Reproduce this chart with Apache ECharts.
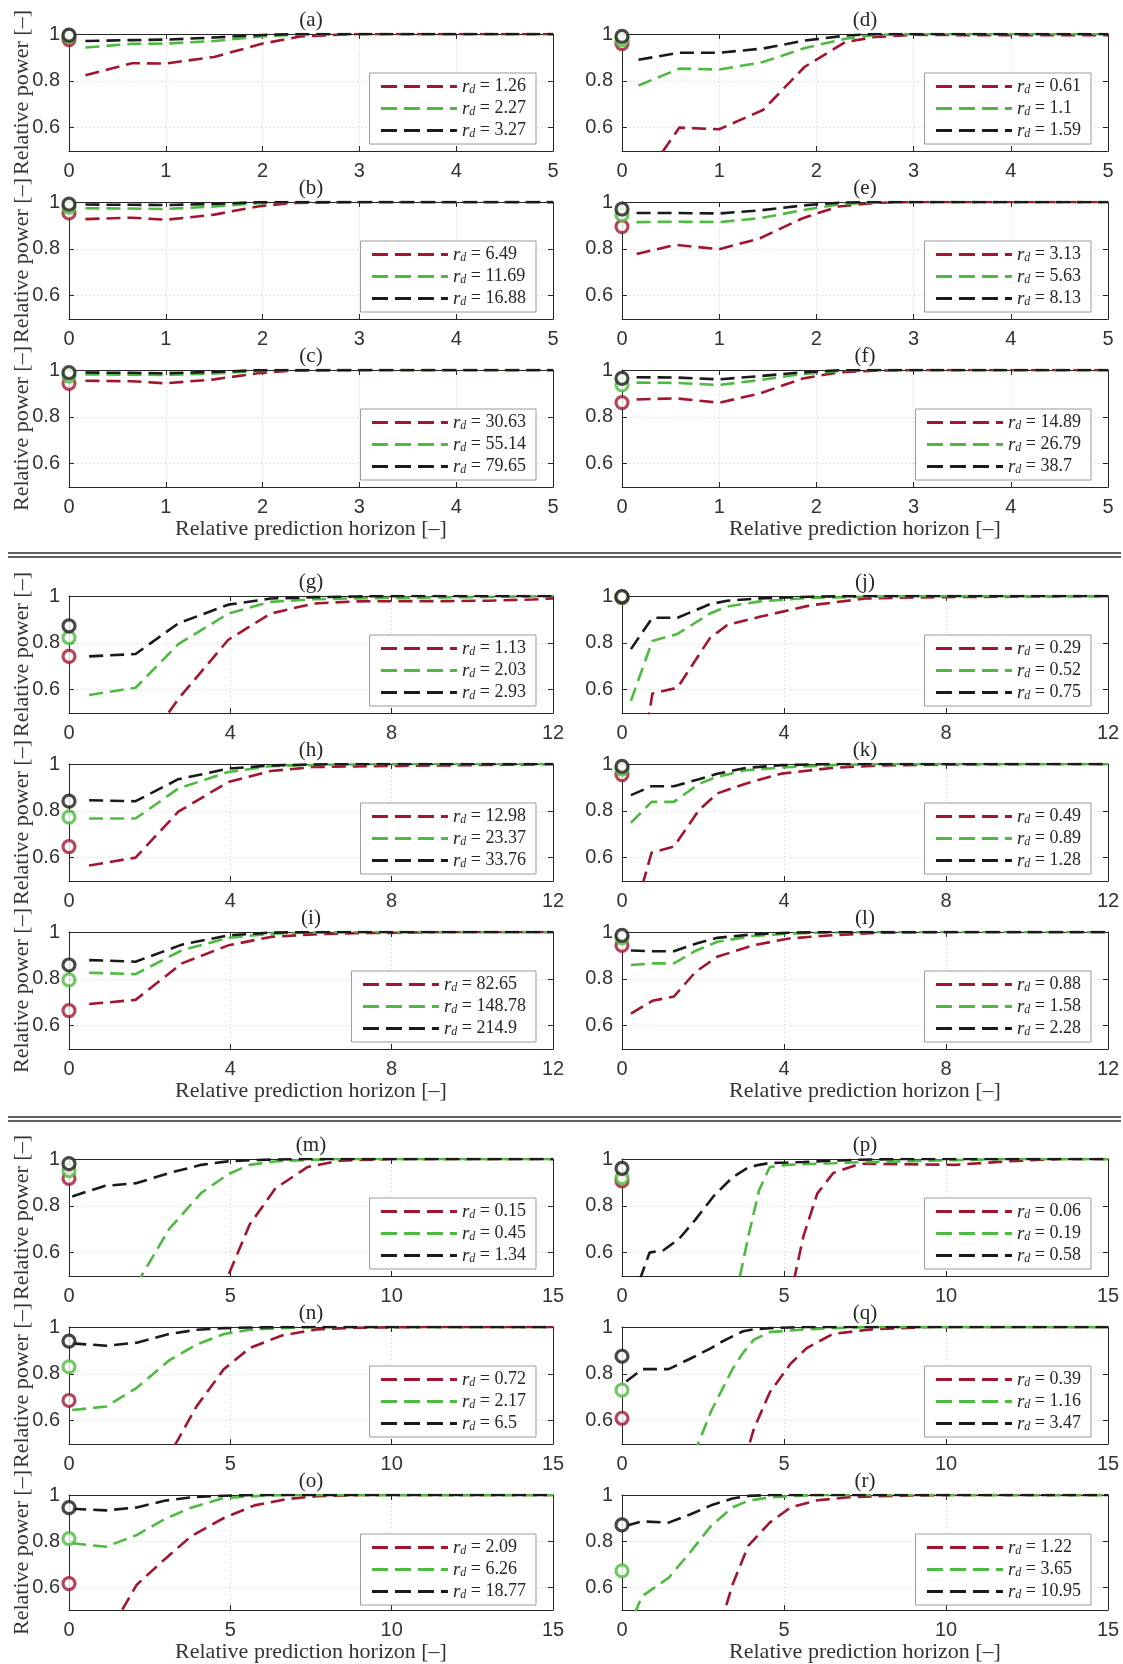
<!DOCTYPE html>
<html>
<head>
<meta charset="utf-8">
<script src="https://cdn.jsdelivr.net/npm/echarts/dist/echarts.min.js"></script>
<style>
  html, body { margin: 0; background: #fff; }
  #chart { width: 1123px; height: 1664px; }
</style>
</head>
<body>
<div id="chart"></div>
<script>
// ---- data: x samples, [red, green, black] curves, start circles at x=0, r_d values
const a_x = [0.17, 0.65, 1.0, 1.5, 2.0, 2.4, 3.0, 3.5, 4.0, 4.5, 5.0];
const a_y = [[0.824, 0.875, 0.874, 0.902, 0.959, 0.990, 1, 1, 1, 1, 1],
             [0.942, 0.958, 0.959, 0.970, 0.990, 0.998, 1, 1, 1, 1, 1],
             [0.970, 0.974, 0.976, 0.985, 0.996, 1, 1, 1, 1, 1, 1]];
const a_o = [0.976, 0.990, 0.995];
const a_rd = ['1.26', '2.27', '3.27'];

const b_x = [0.17, 0.65, 1.0, 1.5, 1.95, 2.3, 3.0, 3.5, 4.0, 4.5, 5.0];
const b_y = [[0.927, 0.933, 0.924, 0.946, 0.981, 0.996, 1, 1, 1, 1, 1],
             [0.973, 0.972, 0.970, 0.981, 0.995, 1, 1, 1, 1, 1, 1],
             [0.989, 0.988, 0.987, 0.992, 0.999, 1, 1, 1, 1, 1, 1]];
const b_o = [0.953, 0.978, 0.991];
const b_rd = ['6.49', '11.69', '16.88'];

const c_x = [0.17, 0.65, 1.0, 1.5, 1.95, 2.3, 3.0, 3.5, 4.0, 4.5, 5.0];
const c_y = [[0.954, 0.952, 0.943, 0.960, 0.986, 0.997, 1, 1, 1, 1, 1],
             [0.981, 0.980, 0.979, 0.985, 0.996, 1, 1, 1, 1, 1, 1],
             [0.989, 0.988, 0.986, 0.992, 0.999, 1, 1, 1, 1, 1, 1]];
const c_o = [0.943, 0.974, 0.989];
const c_rd = ['30.63', '55.14', '79.65'];

const d_x = [0.17, 0.59, 1.0, 1.45, 1.88, 2.3, 2.6, 3.0, 3.5, 4.0, 4.5, 5.0];
const d_y = [[0.35, 0.600, 0.593, 0.675, 0.860, 0.966, 0.987, 0.997, 0.995, 0.995, 0.995, 0.995],
             [0.780, 0.852, 0.848, 0.880, 0.940, 0.980, 0.996, 1, 1, 1, 1, 1],
             [0.890, 0.920, 0.920, 0.938, 0.972, 0.993, 1, 1, 1, 1, 1, 1]];
const d_o = [0.959, 0.975, 0.990];
const d_rd = ['0.61', '1.1', '1.59'];

const e_x = [0.15, 0.55, 1.0, 1.42, 1.86, 2.23, 2.6, 3.0, 3.5, 4.0, 4.5, 5.0];
const e_y = [[0.778, 0.817, 0.798, 0.845, 0.931, 0.981, 0.996, 1, 1, 1, 1, 1],
             [0.914, 0.916, 0.914, 0.931, 0.965, 0.990, 0.998, 1, 1, 1, 1, 1],
             [0.953, 0.953, 0.951, 0.964, 0.985, 0.997, 1, 1, 1, 1, 1, 1]];
const e_o = [0.895, 0.945, 0.970];
const e_rd = ['3.13', '5.63', '8.13'];

const f_x = [0.15, 0.55, 1.0, 1.42, 1.86, 2.23, 2.6, 3.0, 3.5, 4.0, 4.5, 5.0];
const f_y = [[0.874, 0.879, 0.860, 0.900, 0.964, 0.990, 0.997, 1, 1, 1, 1, 1],
             [0.946, 0.945, 0.936, 0.957, 0.983, 0.996, 1, 1, 1, 1, 1, 1],
             [0.969, 0.968, 0.960, 0.974, 0.990, 0.999, 1, 1, 1, 1, 1, 1]];
const f_o = [0.861, 0.936, 0.964];
const f_rd = ['14.89', '26.79', '38.7'];

const g_x = [0.5, 1.65, 2.71, 3.95, 5.0, 6.07, 7.1, 8.2, 9.3, 10.4, 11.5, 12];
const g_y = [[0.26, 0.30, 0.56, 0.813, 0.925, 0.968, 0.977, 0.978, 0.978, 0.980, 0.985, 0.990],
             [0.577, 0.608, 0.794, 0.925, 0.975, 0.986, 0.990, 0.992, 0.994, 0.996, 0.998, 1],
             [0.742, 0.752, 0.883, 0.963, 0.989, 0.995, 0.998, 1, 1, 1, 1, 1]];
const g_o = [0.742, 0.822, 0.872];
const g_rd = ['1.13', '2.03', '2.93'];

const h_x = [0.5, 1.65, 2.71, 3.95, 5.0, 6.07, 7.1, 8.2, 9.3, 10.4, 11.5, 12];
const h_y = [[0.566, 0.600, 0.796, 0.923, 0.970, 0.987, 0.990, 0.992, 0.994, 0.996, 0.998, 1],
             [0.767, 0.767, 0.895, 0.966, 0.991, 0.996, 0.998, 1, 1, 1, 1, 1],
             [0.845, 0.841, 0.935, 0.980, 0.994, 0.998, 1, 1, 1, 1, 1, 1]];
const h_o = [0.647, 0.773, 0.841];
const h_rd = ['12.98', '23.37', '33.76'];

const i_x = [0.5, 1.65, 2.8, 3.95, 5.0, 6.07, 7.1, 8.2, 9.3, 10.4, 11.5, 12];
const i_y = [[0.692, 0.710, 0.866, 0.943, 0.979, 0.990, 0.995, 0.997, 1, 1, 1, 1],
             [0.826, 0.820, 0.922, 0.975, 0.993, 0.998, 1, 1, 1, 1, 1, 1],
             [0.880, 0.873, 0.946, 0.986, 0.997, 1, 1, 1, 1, 1, 1, 1]];
const i_o = [0.664, 0.795, 0.859];
const i_rd = ['82.65', '148.78', '214.9'];

const j_x = [0.22, 0.75, 1.37, 2.17, 2.6, 3.4, 4.65, 6, 7.3, 8.6, 10, 12];
const j_y = [[0.0, 0.583, 0.608, 0.820, 0.876, 0.911, 0.960, 0.989, 0.994, 0.996, 0.998, 1],
             [0.552, 0.808, 0.838, 0.925, 0.955, 0.977, 0.992, 0.997, 1, 1, 1, 1],
             [0.773, 0.907, 0.907, 0.965, 0.980, 0.990, 0.997, 1, 1, 1, 1, 1]];
const j_o = [0.993, 0.995, 0.997];
const j_rd = ['0.29', '0.52', '0.75'];

const k_x = [0.22, 0.73, 1.28, 1.9, 2.35, 3.05, 3.94, 5.18, 6.4, 8, 10, 12];
const k_y = [[0.31, 0.621, 0.647, 0.803, 0.874, 0.916, 0.959, 0.983, 0.994, 0.998, 1, 1],
             [0.749, 0.838, 0.838, 0.915, 0.945, 0.973, 0.985, 0.995, 1, 1, 1, 1],
             [0.867, 0.905, 0.905, 0.935, 0.958, 0.983, 0.995, 1, 1, 1, 1, 1]];
const k_o = [0.955, 0.978, 0.990];
const k_rd = ['0.49', '0.89', '1.28'];

const l_x = [0.22, 0.75, 1.28, 1.82, 2.35, 3.23, 4.12, 5.18, 6.4, 8, 10, 12];
const l_y = [[0.651, 0.706, 0.724, 0.830, 0.894, 0.943, 0.972, 0.986, 0.997, 1, 1, 1],
             [0.859, 0.866, 0.866, 0.920, 0.958, 0.983, 0.993, 0.998, 1, 1, 1, 1],
             [0.921, 0.918, 0.918, 0.950, 0.975, 0.990, 0.997, 1, 1, 1, 1, 1]];
const l_o = [0.943, 0.975, 0.986];
const l_rd = ['0.88', '1.58', '2.28'];

const m_x = [0.1, 1.1, 2.1, 3.1, 4.1, 4.93, 5.6, 6.4, 7.4, 8.4, 10, 12, 15];
const m_y = [[0, 0, 0, 0, 0.2, 0.5, 0.72, 0.875, 0.966, 0.993, 1, 1, 1],
             [0, 0.2, 0.466, 0.70, 0.855, 0.935, 0.975, 0.99, 0.996, 1, 1, 1, 1],
             [0.84, 0.885, 0.897, 0.94, 0.975, 0.99, 0.995, 0.998, 1, 1, 1, 1, 1]];
const m_o = [0.917, 0.95, 0.98];
const m_rd = ['0.15', '0.45', '1.34'];

const n_x = [0.1, 1.15, 2.1, 3.1, 3.95, 4.8, 5.6, 6.6, 7.7, 9, 11, 13, 15];
const n_y = [[0, 0, 0.2, 0.45, 0.66, 0.82, 0.91, 0.964, 0.99, 0.997, 1, 1, 1],
             [0.645, 0.66, 0.74, 0.857, 0.925, 0.97, 0.988, 0.995, 1, 1, 1, 1, 1],
             [0.93, 0.92, 0.933, 0.97, 0.988, 0.995, 0.998, 1, 1, 1, 1, 1, 1]];
const n_o = [0.686, 0.83, 0.94];
const n_rd = ['0.72', '2.17', '6.5'];

const o_x = [0.1, 1.15, 2.1, 2.96, 3.78, 4.8, 5.75, 6.74, 7.7, 9, 11, 13, 15];
const o_y = [[0.1, 0.38, 0.61, 0.72, 0.82, 0.9, 0.955, 0.982, 0.995, 1, 1, 1, 1],
             [0.79, 0.775, 0.826, 0.895, 0.945, 0.987, 0.995, 1, 1, 1, 1, 1, 1],
             [0.94, 0.933, 0.946, 0.975, 0.99, 0.997, 1, 1, 1, 1, 1, 1, 1]];
const o_o = [0.615, 0.81, 0.945];
const o_rd = ['2.09', '6.26', '18.77'];

const p_x = [0.33, 0.85, 1.28, 1.77, 2.26, 2.82, 3.4, 3.9, 4.23, 4.56, 5.1, 5.6, 6.03, 6.52, 7.34, 8.66, 10.3, 11.9, 13.5, 15];
const p_y = [[0, 0, 0, 0, 0, 0, 0, 0, 0, 0, 0.35, 0.67, 0.853, 0.94, 0.98, 0.978, 0.975, 0.99, 1, 1],
             [0, 0, 0, 0, 0, 0.1, 0.34, 0.67, 0.866, 0.966, 0.975, 0.978, 0.98, 0.982, 0.986, 0.99, 0.995, 1, 1, 1],
             [0.4, 0.6, 0.61, 0.66, 0.74, 0.84, 0.92, 0.964, 0.975, 0.983, 0.985, 0.987, 0.99, 0.993, 0.997, 1, 1, 1, 1, 1]];
const p_o = [0.906, 0.92, 0.96];
const p_rd = ['0.06', '0.19', '0.58'];

const q_x = [0.13, 0.62, 1.44, 2.26, 2.75, 3.08, 3.41, 3.74, 4.07, 4.56, 5.2, 5.7, 6.5, 7.7, 9.5, 12, 15];
const q_y = [[0, 0, 0, 0, 0, 0.1, 0.25, 0.41, 0.565, 0.72, 0.843, 0.91, 0.97, 0.99, 1, 1, 1],
             [0, 0.1, 0.3, 0.47, 0.64, 0.73, 0.82, 0.89, 0.946, 0.978, 0.985, 0.99, 0.995, 1, 1, 1, 1],
             [0.767, 0.82, 0.82, 0.875, 0.91, 0.937, 0.96, 0.982, 0.99, 0.995, 0.998, 1, 1, 1, 1, 1, 1]];
const q_o = [0.61, 0.73, 0.875];
const q_rd = ['0.39', '1.16', '3.47'];

const r_x = [0.13, 0.62, 1.44, 2.1, 2.75, 3.41, 3.9, 4.56, 5.2, 6.03, 7.0, 8.5, 10, 12, 15];
const r_y = [[0, 0, 0, 0, 0.3, 0.61, 0.78, 0.88, 0.946, 0.977, 0.99, 0.997, 1, 1, 1],
             [0.4, 0.56, 0.64, 0.75, 0.866, 0.946, 0.975, 0.99, 0.995, 1, 1, 1, 1, 1, 1],
             [0.866, 0.885, 0.88, 0.915, 0.955, 0.985, 0.996, 1, 1, 1, 1, 1, 1, 1, 1]];
const r_o = [null, 0.67, 0.87];
const r_rd = ['1.22', '3.65', '10.95'];

// x-axis setup of the three groups
const xMax = [5, 12, 15];
const xTicks = [[0, 1, 2, 3, 4, 5], [0, 4, 8, 12], [0, 5, 10, 15]];
const xGridStep = [0.2, 0.5, 0.5];
const yTicks = [0.6, 0.8, 1];

// panels: id, data..., column, row (0..8)
const panels = [
  ['a', a_x, a_y, a_o, a_rd, 0, 0], ['b', b_x, b_y, b_o, b_rd, 0, 1], ['c', c_x, c_y, c_o, c_rd, 0, 2],
  ['d', d_x, d_y, d_o, d_rd, 1, 0], ['e', e_x, e_y, e_o, e_rd, 1, 1], ['f', f_x, f_y, f_o, f_rd, 1, 2],
  ['g', g_x, g_y, g_o, g_rd, 0, 3], ['h', h_x, h_y, h_o, h_rd, 0, 4], ['i', i_x, i_y, i_o, i_rd, 0, 5],
  ['j', j_x, j_y, j_o, j_rd, 1, 3], ['k', k_x, k_y, k_o, k_rd, 1, 4], ['l', l_x, l_y, l_o, l_rd, 1, 5],
  ['m', m_x, m_y, m_o, m_rd, 0, 6], ['n', n_x, n_y, n_o, n_rd, 0, 7], ['o', o_x, o_y, o_o, o_rd, 0, 8],
  ['p', p_x, p_y, p_o, p_rd, 1, 6], ['q', q_x, q_y, q_o, q_rd, 1, 7], ['r', r_x, r_y, r_o, r_rd, 1, 8]
];

const colors = ['#a2142f', '#4dbb3f', '#1a1a1a'];
const rowTops = [34, 202, 370, 596, 764, 932, 1159, 1327, 1495];
const colLeft = [69, 622];
const colWidth = [484, 486];
const plotH = 117;
const sans = 'Liberation Sans';
const serif = 'Liberation Serif';
const axisColor = '#262626';
const labelColor = '#333';
const dotLine = { color: '#cccccc', width: 1, type: [1, 3] };
const dash = [14, 7];

const grid = [], xAxis = [], yAxis = [], series = [], legend = [], graphic = [];

panels.forEach(([id, xs, ys, os, rd, col, row], i) => {
  const g = Math.floor(row / 3);
  const top = rowTops[row];
  const left = colLeft[col];
  const bottomRow = row % 3 === 2;
  grid.push({ left: left, top: top, width: colWidth[col], height: plotH, show: false });

  xAxis.push({
    type: 'value', gridIndex: i, min: 0, max: xMax[g], interval: xGridStep[g], position: 'bottom',
    axisLine: { show: true, onZero: false, lineStyle: { color: axisColor, width: 1 } },
    axisTick: { show: true, inside: true, length: 5, customValues: xTicks[g], lineStyle: { color: axisColor } },
    axisLabel: { show: true, customValues: xTicks[g], margin: 10, color: labelColor, fontSize: 20, fontFamily: sans },
    splitLine: { show: true, lineStyle: dotLine },
    name: bottomRow ? 'Relative prediction horizon [–]' : '',
    nameLocation: 'middle', nameGap: 31,
    nameTextStyle: { fontFamily: serif, fontSize: 22, color: labelColor }
  });
  xAxis.push({
    type: 'value', gridIndex: i, min: 0, max: xMax[g], position: 'top',
    axisLine: { show: true, onZero: false, lineStyle: { color: axisColor, width: 1 } },
    axisTick: { show: true, inside: true, length: 5, customValues: xTicks[g], lineStyle: { color: axisColor } },
    axisLabel: { show: false }, splitLine: { show: false }
  });
  yAxis.push({
    type: 'value', gridIndex: i, min: 0.5, max: 1, interval: 0.05, position: 'left',
    axisLine: { show: true, onZero: false, lineStyle: { color: axisColor, width: 1 } },
    axisTick: { show: true, inside: true, length: 5, customValues: yTicks, lineStyle: { color: axisColor } },
    axisLabel: { show: true, customValues: yTicks, margin: 9, color: labelColor, fontSize: 20, fontFamily: sans },
    splitLine: { show: true, lineStyle: dotLine },
    name: col === 0 ? 'Relative power [–]' : '',
    nameLocation: 'middle', nameGap: 36, nameMoveOverlap: false,
    nameTextStyle: { fontFamily: serif, fontSize: 22, color: labelColor }
  });
  yAxis.push({
    type: 'value', gridIndex: i, min: 0.5, max: 1, position: 'right',
    axisLine: { show: true, onZero: false, lineStyle: { color: axisColor, width: 1 } },
    axisTick: { show: true, inside: true, length: 5, customValues: yTicks, lineStyle: { color: axisColor } },
    axisLabel: { show: false }, splitLine: { show: false }
  });

  const names = [];
  ys.forEach((vals, k) => {
    const name = id + ':' + rd[k];
    names.push(name);
    series.push({
      type: 'line', name: name, xAxisIndex: 2 * i, yAxisIndex: 2 * i,
      data: xs.map((xv, j) => [xv, vals[j]]),
      symbol: 'none', clip: true, animation: false, z: 3 + k,
      lineStyle: { color: colors[k], width: 2.6, type: dash },
      itemStyle: { color: colors[k] }
    });
  });
  series.push({
    type: 'scatter', name: id + ':start', xAxisIndex: 2 * i, yAxisIndex: 2 * i,
    data: os.map((v, k) => v == null ? null : { value: [0, v], itemStyle: { borderColor: colors[k] } }).filter(Boolean),
    symbol: 'circle', symbolSize: 12, clip: false, silent: true, animation: false, z: 8,
    itemStyle: { color: '#fff', borderWidth: 3.2 }
  });

  legend.push({
    data: names, orient: 'vertical',
    right: 1123 - (left + colWidth[col] - 17),
    top: top + 39,
    itemWidth: 76, itemHeight: 17, itemGap: 3, padding: [4, 10, 4, 10],
    borderColor: '#9a9a9a', borderWidth: 1, backgroundColor: '#fff', borderRadius: 0,
    selectedMode: false,
    itemStyle: { color: 'rgba(0,0,0,0)', borderWidth: 0, opacity: 0 },
    lineStyle: { width: 2.8, type: [16, 7] },
    formatter: n => '{r|r}{d|d} = ' + n.split(':')[1],
    textStyle: {
      fontFamily: serif, fontSize: 18, color: '#262626',
      rich: {
        r: { fontFamily: serif, fontStyle: 'italic', fontSize: 19 },
        d: { fontFamily: serif, fontStyle: 'italic', fontSize: 12, verticalAlign: 'bottom', padding: [6, 0, 0, 0] }
      }
    }
  });

  graphic.push({
    type: 'text', x: left + colWidth[col] / 2, y: top - 14,
    style: { text: '(' + id + ')', align: 'center', verticalAlign: 'middle', fontFamily: serif, fontSize: 21, fill: '#262626' }
  });
});

// double separator lines between groups
[553, 557, 1117, 1121].forEach(y => graphic.push({
  type: 'line', shape: { x1: 8, y1: y, x2: 1121, y2: y }, style: { stroke: '#2a2a2a', lineWidth: 1.4 }
}));

const chart = echarts.init(document.getElementById('chart'));
chart.setOption({
  animation: false,
  backgroundColor: '#fff',
  grid: grid, xAxis: xAxis, yAxis: yAxis, series: series, legend: legend, graphic: graphic
});
</script>
</body>
</html>
